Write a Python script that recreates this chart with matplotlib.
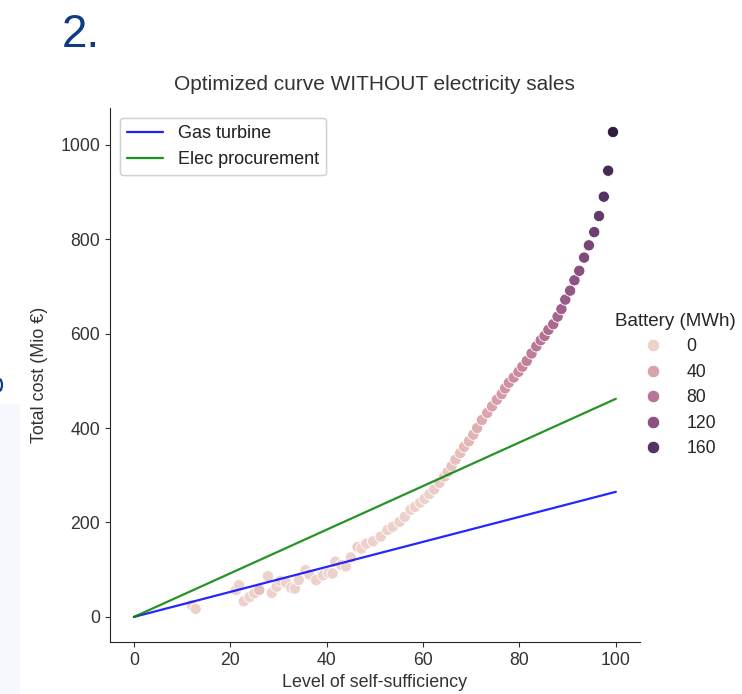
import matplotlib
matplotlib.use("Agg")
import matplotlib.pyplot as plt
from matplotlib.lines import Line2D
from matplotlib.patches import Rectangle, Arc
import seaborn as sns

sns.set_style("ticks")
plt.rcParams['font.family'] = ['Liberation Sans', 'DejaVu Sans']

# ---- data ----
self_sufficiency = [12.0, 12.8, 21.2, 21.8, 22.8, 24.0, 25.0, 26.0, 27.8, 28.6,
                    29.6, 30.4, 31.6, 32.6, 33.4, 34.2, 35.6, 36.4, 37.8, 39.2,
                    40.4, 41.2, 41.8, 43.0, 44.0, 45.0, 46.4, 47.2, 48.2, 49.6,
                    51.2, 52.6, 53.7, 55.1, 56.2, 57.4, 58.3, 59.4, 60.3, 61.3,
                    62.3, 63.4, 64.4, 65.1, 65.9, 66.7, 67.7, 68.5, 69.5, 70.4,
                    71.2, 72.2, 73.3, 74.3, 75.3, 76.3, 77.0, 77.8, 78.8, 79.8,
                    80.6, 81.5, 82.5, 83.5, 84.4, 85.2, 86.0, 87.0, 87.9, 88.7,
                    89.5, 90.5, 91.4, 92.4, 93.4, 94.4, 95.5, 96.5, 97.5, 98.4,
                    99.4]
total_cost = [25, 17, 57, 67, 33, 42, 50, 57, 86, 51,
              64, 76, 72, 62, 60, 78, 99, 90, 78, 88,
              93, 92, 117, 110, 107, 126, 148, 145, 155, 160,
              170, 184, 191, 201, 212, 227, 233, 242, 250, 260,
              270, 284, 297, 307, 319, 333, 347, 360, 372, 386,
              400, 417, 432, 446, 460, 472, 484, 496, 507, 519,
              530, 542, 558, 573, 586, 595, 608, 620, 636, 652,
              672, 691, 713, 733, 761, 787, 815, 849, 890, 945,
              1027]
battery = [0, 0, 0, 0, 0, 0, 0, 15, 0, 0,
           0, 0, 0, 0, 0, 0, 0, 0, 0, 0,
           0, 0, 0, 0, 0, 0, 5, 0, 0, 0,
           0, 0, 0, 0, 0, 0, 0, 0, 0, 2,
           4, 6, 8, 10, 12, 14, 17, 20, 23, 26,
           29, 32, 36, 40, 44, 48, 52, 55, 58, 62,
           66, 70, 74, 78, 82, 86, 90, 94, 98, 103,
           108, 113, 118, 123, 129, 135, 142, 150, 160, 172,
           190]

line_x = [0, 100]
gas_turbine = [0, 265]
elec_procurement = [0, 462]

battery_levels = [0, 40, 80, 120, 160]

# ---- figure ----
fig = plt.figure(figsize=(7.42, 6.94), dpi=100)

# faint slide background strip at the left edge
fig.patches.append(Rectangle((0, 0), 20 / 742, 290 / 694, transform=fig.transFigure,
                             facecolor='#f5f8fc', edgecolor='none', zorder=0))
# clipped fragment of a slide glyph at the left edge
fig.patches.append(Arc((-4 / 742, 1 - 385 / 694), 12 / 742, 16 / 694, theta1=-60, theta2=60,
                       transform=fig.transFigure, color='#0d3c85', lw=1.6))

ax = fig.add_axes([0.148, 0.075, 0.7145, 0.7695])

cmap = sns.cubehelix_palette(as_cmap=True)
norm = plt.Normalize(min(battery), max(battery))

ax.scatter(self_sufficiency, total_cost, c=battery, cmap=cmap, norm=norm,
           s=66, edgecolors='white', linewidths=0.6, zorder=2)
ax.plot(line_x, gas_turbine, color='blue', lw=1.6, label='Gas turbine', zorder=3, alpha=0.85)
ax.plot(line_x, elec_procurement, color='green', lw=1.6, label='Elec procurement', zorder=3, alpha=0.85)

ax.set_xlim(-5, 105)
ax.set_ylim(-53, 1078)
ax.set_xticks([0, 20, 40, 60, 80, 100])
ax.set_yticks([0, 200, 400, 600, 800, 1000])
ax.tick_params(labelsize=12.7, colors='#333333')
for s in ['top', 'right']:
    ax.spines[s].set_visible(False)

ax.set_title('Optimized curve WITHOUT electricity sales', fontsize=15, color='#333333', pad=13)
ax.set_xlabel('Level of self-sufficiency', fontsize=12.9, color='#333333', labelpad=4)
ax.set_ylabel('Total cost (Mio €)', fontsize=12.9, color='#333333', labelpad=9)

leg1 = ax.legend(loc='upper left', fontsize=13, borderaxespad=0.55)
ax.add_artist(leg1)

handles = [Line2D([], [], marker='o', ls='', markersize=9, markerfacecolor=cmap(norm(v)),
                  markeredgecolor='white', markeredgewidth=0.6) for v in battery_levels]
fig.legend(handles, [str(v) for v in battery_levels], title='Battery (MWh)',
           loc='center left', bbox_to_anchor=(0.808, 0.445), frameon=False,
           fontsize=12.7, title_fontsize=13.5, labelspacing=0.48, handletextpad=0.9)

# slide elements
fig.text(62 / 742, 1 - 47 / 694, '2.', fontsize=33, color='#0d3c85')

fig.savefig('out.png', dpi=100)
